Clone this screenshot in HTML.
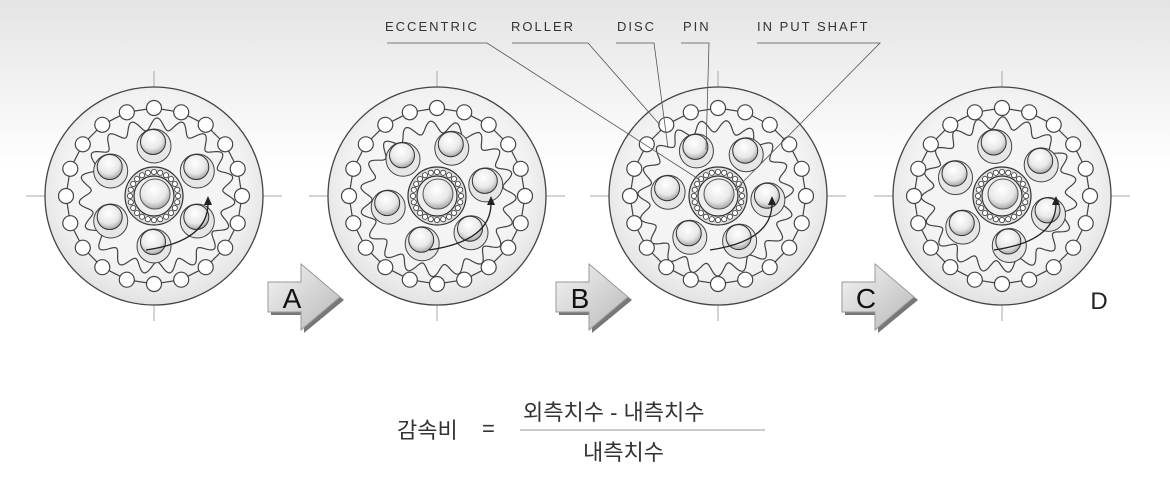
<!DOCTYPE html>
<html><head><meta charset="utf-8"><style>
html,body{margin:0;padding:0;width:1170px;height:482px;overflow:hidden;background:#fff}
svg{display:block}
</style></head><body>
<svg id="s" width="1170" height="482" xmlns="http://www.w3.org/2000/svg">
<defs>
<linearGradient id="bg" x1="0" y1="0" x2="0" y2="1">
<stop offset="0" stop-color="#e4e4e4"/><stop offset="0.35" stop-color="#ffffff"/></linearGradient>
<radialGradient id="disc" cx="0.5" cy="0.45" r="0.6"><stop offset="0" stop-color="#fff"/><stop offset="0.7" stop-color="#f2f2f2"/><stop offset="1" stop-color="#dcdcdc"/></radialGradient>
<radialGradient id="hole" cx="0.45" cy="0.35" r="0.7"><stop offset="0" stop-color="#fff"/><stop offset="0.6" stop-color="#e8e8e8"/><stop offset="1" stop-color="#999"/></radialGradient>
<linearGradient id="arr" x1="0" y1="0" x2="1" y2="1"><stop offset="0" stop-color="#f4f4f4"/><stop offset="1" stop-color="#b8b8b8"/></linearGradient>
</defs>
<rect width="1170" height="482" fill="url(#bg)"/>
<g id="g"></g>
<g font-family="Liberation Sans, sans-serif" font-size="13" fill="#333" letter-spacing="2">
<text x="385" y="31">ECCENTRIC</text>
<text x="511" y="31">ROLLER</text>
<text x="617" y="31">DISC</text>
<text x="683" y="31">PIN</text>
<text x="757" y="31">IN PUT SHAFT</text>
</g>
<g stroke="#555" stroke-width="0.8" fill="none">
<polyline points="387,43 487,43 700,180"/>
<polyline points="512,43 588,43 660,125"/>
<polyline points="616,43 654,43 668,148"/>
<polyline points="681,43 709,43 706,150"/>
<polyline points="757,43 880,43 735,190"/>
</g>
<g font-family="Liberation Sans, sans-serif" font-size="24" fill="#222" text-anchor="middle">
<text x="1099" y="309">D</text>
</g>
<g font-family="Liberation Sans, 'Noto Sans CJK KR', sans-serif" font-size="22" fill="#333">
<text x="397" y="438">감속비</text>
<text x="482" y="436">=</text>
<text x="523" y="420">외측치수 - 내측치수</text>
<text x="583" y="460">내측치수</text>
</g>
<line x1="520" y1="430" x2="765" y2="430" stroke="#999" stroke-width="1"/>
</svg>
<script>
const g=document.getElementById('g');let h='';
const C=[[154,196,0],[437,196,0.3],[718,196,0.6],[1002,196,0.9]];
C.forEach(([cx,cy,rot],k)=>{
 h+=`<line x1="${cx-128}" y1="${cy}" x2="${cx+128}" y2="${cy}" stroke="#aaa" stroke-width="1"/>`;
 h+=`<line x1="${cx}" y1="${cy-125}" x2="${cx}" y2="${cy+125}" stroke="#aaa" stroke-width="1"/>`;
 h+=`<circle cx="${cx}" cy="${cy}" r="109" fill="url(#disc)" stroke="#444" stroke-width="1.3"/>`;
 let N=20,R=88,pts=[];
 for(let i=0;i<N;i++){let a=i/N*2*Math.PI;pts.push([cx+R*Math.sin(a),cy-R*Math.cos(a)]);}
 h+=`<polygon points="${pts.map(p=>p.map(v=>v.toFixed(1)).join(',')).join(' ')}" fill="none" stroke="#444" stroke-width="1.2"/>`;
 let w='';const ex=3*Math.cos(rot*4),ey=3*Math.sin(rot*4);
 for(let i=0;i<=360;i++){let a=i/360*2*Math.PI;let r=72+6*Math.cos(19*a+rot*6);w+=(i?'L':'M')+(cx+ex+r*Math.sin(a)).toFixed(1)+','+(cy+ey-r*Math.cos(a)).toFixed(1);}
 h+=`<path d="${w}Z" fill="#f4f4f4" stroke="#444" stroke-width="1.2"/>`;
 pts.forEach(p=>h+=`<circle cx="${p[0].toFixed(1)}" cy="${p[1].toFixed(1)}" r="7.5" fill="#fff" stroke="#444" stroke-width="1.2"/>`);
 for(let i=0;i<6;i++){let a=i/6*2*Math.PI+rot;let x=cx+50*Math.sin(a),y=cy-50*Math.cos(a);
  h+=`<circle cx="${x.toFixed(1)}" cy="${y.toFixed(1)}" r="17" fill="#e6e6e6" stroke="#444" stroke-width="1"/>`;
  h+=`<circle cx="${(x-1).toFixed(1)}" cy="${(y-4).toFixed(1)}" r="12.5" fill="url(#hole)" stroke="#333" stroke-width="1"/>`;}
 h+=`<circle cx="${cx}" cy="${cy}" r="29" fill="#ddd" stroke="#333" stroke-width="1.2"/>`;
 for(let i=0;i<24;i++){let a=i/24*2*Math.PI;h+=`<circle cx="${(cx+24*Math.cos(a)).toFixed(1)}" cy="${(cy+24*Math.sin(a)).toFixed(1)}" r="2.6" fill="#fff" stroke="#333" stroke-width="0.8"/>`;}
 h+=`<circle cx="${cx}" cy="${cy}" r="20" fill="#eee" stroke="#333" stroke-width="1.2"/>`;
 h+=`<circle cx="${cx+1}" cy="${cy-2}" r="15" fill="url(#hole)" stroke="#555" stroke-width="1"/>`;
 h+=`<path d="M${cx-8},${cy+54} Q${cx+55},${cy+45} ${cx+54},${cy+6}" fill="none" stroke="#222" stroke-width="1.3"/>`;
 h+=`<polygon points="${cx+54},${cy} ${cx+50},${cy+9} ${cx+58},${cy+9}" fill="#222"/>`;
});
[[268,'A'],[556,'B'],[842,'C']].forEach(([x,l])=>{
 const y=262;
 h+=`<polygon points="${x+3},${y+23} ${x+36},${y+23} ${x+36},${y+5} ${x+76},${y+38} ${x+36},${y+71} ${x+36},${y+53} ${x+3},${y+53}" fill="#777"/>`;
 h+=`<polygon points="${x},${y+20} ${x+33},${y+20} ${x+33},${y+2} ${x+72},${y+35} ${x+33},${y+68} ${x+33},${y+50} ${x},${y+50}" fill="url(#arr)" stroke="#999" stroke-width="1"/>`;
 h+=`<text x="${x+24}" y="${y+46}" font-family="Liberation Sans, sans-serif" font-size="28" fill="#111" text-anchor="middle">${l}</text>`;
});
g.innerHTML=h;
</script>
</body></html>
